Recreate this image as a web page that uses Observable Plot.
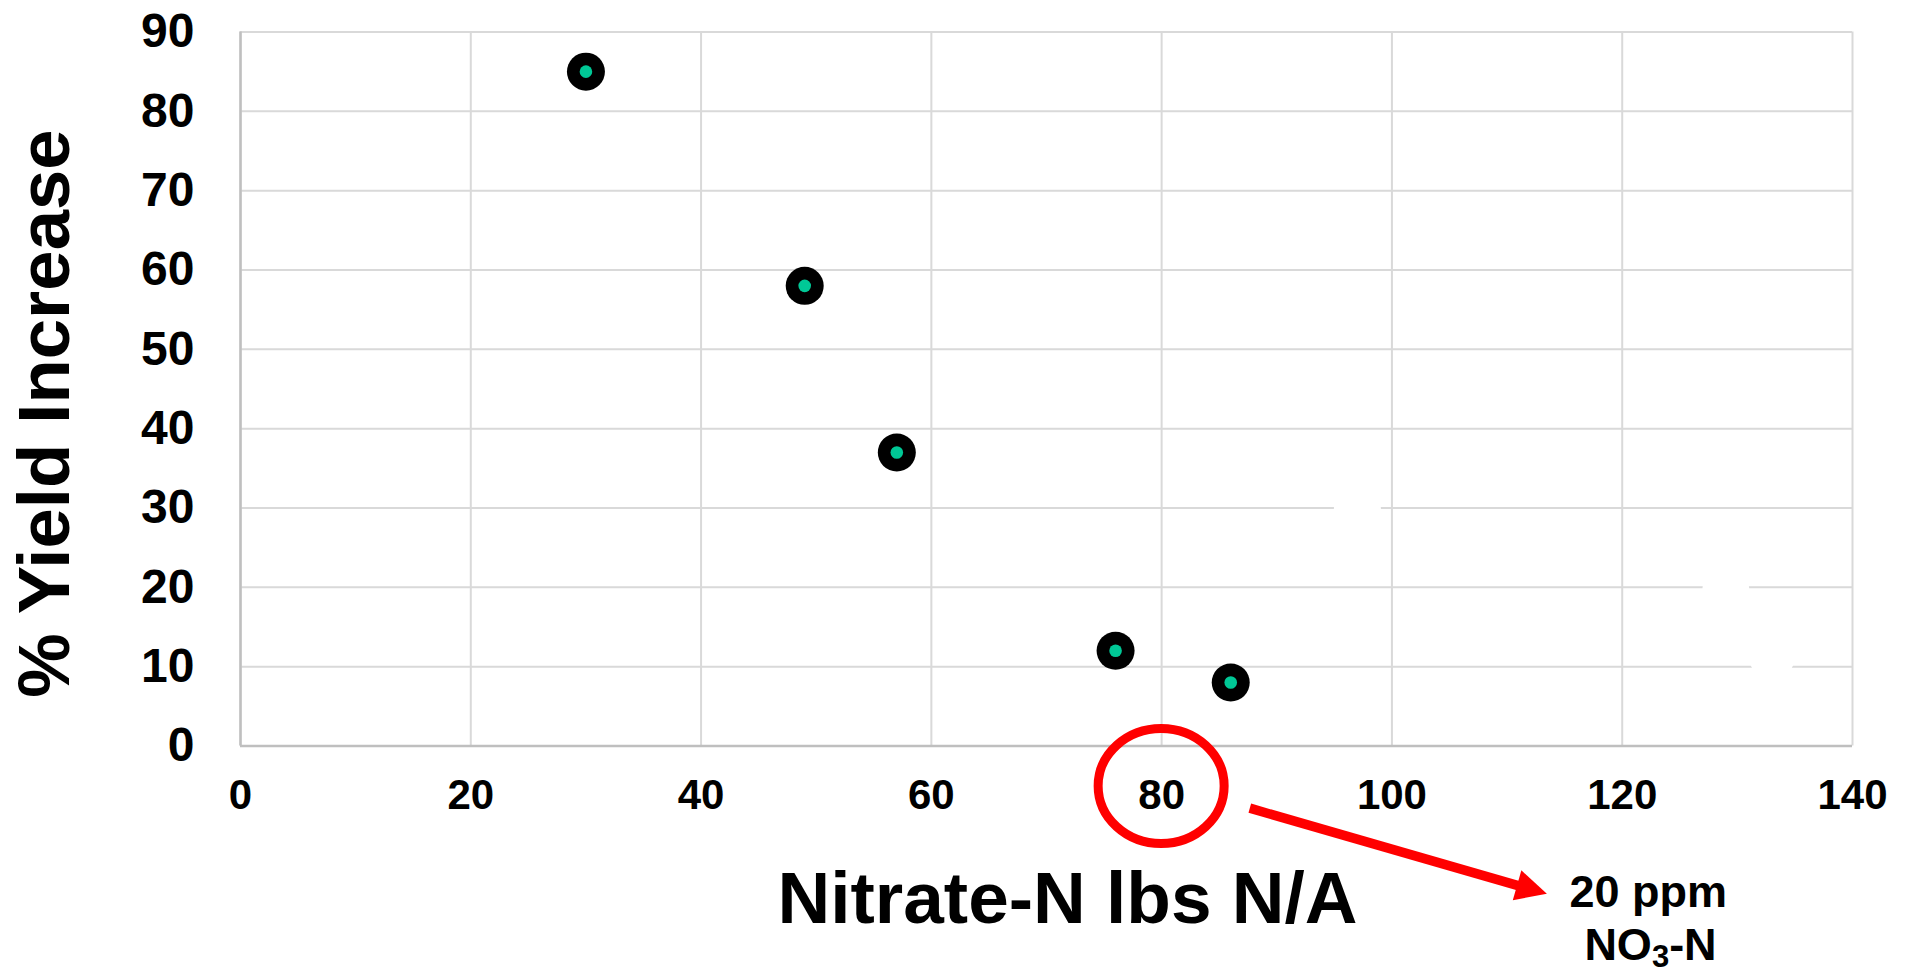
<!DOCTYPE html>
<html>
<head>
<meta charset="utf-8">
<script src="https://cdn.jsdelivr.net/npm/d3@7"></script>
<script src="https://cdn.jsdelivr.net/npm/@observablehq/plot@0.6"></script>
<style>
  html, body { margin: 0; padding: 0; background: #fff; }
  #chart svg { display: block; }
</style>
</head>
<body>
<div id="chart"></div>
<script>
// Soil nitrate-N vs. yield response
const nitrateN      = [30, 49, 57, 76, 86];
const yieldIncrease = [85, 58, 37, 12, 8];

// Sites blanked out in white
const blankN     = [97, 129, 133];
const blankYield = [30, 19.7, 11.4];

const xTicks = [0, 20, 40, 60, 80, 100, 120, 140];
const yTicks = [0, 10, 20, 30, 40, 50, 60, 70, 80, 90];

const xTitle = "Nitrate-N lbs N/A";
const yTitle = "% Yield Increase";

// Callout: ring around the 80 lb tick, arrow to the ppm equivalent
// (positions in axis units; negative y sits below the x axis)
const calloutTick    = 80;
const ringY          = -5.1;
const arrowStart     = [87.7, -7.9];
const arrowTip       = [113.5, -18.7];
const calloutLine1   = "20 ppm";
const calloutLine1At = [122.3, -20.3];
const calloutLine2   = ["NO", "3", "-N"];
const calloutLine2At = [122.5, -27.1];

const points = nitrateN.map((n, i) => ({n, y: yieldIncrease[i]}));
const blanks = blankN.map((n, i) => ({n, y: blankYield[i]}));

const font = '"Liberation Sans", Arial, Helvetica, sans-serif';
const gridStyle = {stroke: "#d9d9d9", strokeOpacity: 1, strokeWidth: 2};

const plot = Plot.plot({
  width: 1907,
  height: 974,
  marginLeft: 240,
  marginRight: 55,
  marginTop: 31.5,
  marginBottom: 228.5,
  style: {fontFamily: font, fontWeight: "bold", background: "#fff", color: "#000"},
  x: {domain: [0, 140]},
  y: {domain: [0, 90]},
  marks: [
    Plot.gridX(xTicks, gridStyle),
    Plot.gridY(yTicks, gridStyle),
    Plot.ruleY([0], {stroke: "#bfbfbf", strokeWidth: 2.5}),
    Plot.ruleX([0], {stroke: "#bfbfbf", strokeWidth: 2.5}),
    Plot.axisX(xTicks, {tickSize: 0, tickPadding: 33.5, fontSize: 42, fontWeight: "bold", label: null, fill: "#000"}),
    Plot.axisY(yTicks, {tickSize: 0, tickPadding: 46, fontSize: 48, fontWeight: "bold", label: null, fill: "#000"}),
    Plot.dot(blanks, {x: "n", y: "y", r: 23.5, fill: "#fff"}),
    Plot.dot(points, {x: "n", y: "y", r: 19, fill: "#000"}),
    Plot.dot(points, {x: "n", y: "y", r: 6.3, fill: "#00c896"}),
    Plot.text([xTitle], {text: d => d, frameAnchor: "bottom", dx: 21, dy: 176.5, lineAnchor: "bottom",
      textAnchor: "middle", fontSize: 73, fontWeight: "bold", fill: "#000"}),
    Plot.text([yTitle], {text: d => d, frameAnchor: "left", rotate: -90, dx: -172, dy: 24.5, lineAnchor: "bottom",
      textAnchor: "middle", fontSize: 72.5, fontWeight: "bold", fill: "#000"})
  ]
});

document.getElementById("chart").appendChild(plot);

// Callout graphics, placed with linear (unclamped) copies of the plot's scales
const px = plot.scale("x"), py = plot.scale("y");
const sx = d3.scaleLinear(px.domain, px.range);
const sy = d3.scaleLinear(py.domain, py.range);
const svg = d3.select(plot);
const red = "#ff0000";
const g = svg.append("g").attr("class", "callout");

g.append("ellipse")
  .attr("cx", sx(calloutTick))
  .attr("cy", sy(ringY))
  .attr("rx", 63)
  .attr("ry", 57.5)
  .attr("fill", "none")
  .attr("stroke", red)
  .attr("stroke-width", 9);

const x0 = sx(arrowStart[0]), y0 = sy(arrowStart[1]);
const x1 = sx(arrowTip[0]),   y1 = sy(arrowTip[1]);
const len = Math.hypot(x1 - x0, y1 - y0);
const ux = (x1 - x0) / len, uy = (y1 - y0) / len;
const headLen = 31, headHalf = 15.5;
const bx = x1 - ux * headLen, by = y1 - uy * headLen;

g.append("line")
  .attr("x1", x0).attr("y1", y0)
  .attr("x2", bx + ux * 2).attr("y2", by + uy * 2)
  .attr("stroke", red)
  .attr("stroke-width", 9.5);

g.append("polygon")
  .attr("points", [
    [x1, y1],
    [bx - uy * headHalf, by + ux * headHalf],
    [bx + uy * headHalf, by - ux * headHalf]
  ].map(p => p.join(",")).join(" "))
  .attr("fill", red);

g.append("text")
  .attr("x", sx(calloutLine1At[0]))
  .attr("y", sy(calloutLine1At[1]))
  .attr("text-anchor", "middle")
  .attr("font-family", font)
  .attr("font-weight", "bold")
  .attr("font-size", 45)
  .attr("fill", "#000")
  .text(calloutLine1);

const t2 = g.append("text")
  .attr("x", sx(calloutLine2At[0]))
  .attr("y", sy(calloutLine2At[1]))
  .attr("text-anchor", "middle")
  .attr("font-family", font)
  .attr("font-weight", "bold")
  .attr("font-size", 45)
  .attr("fill", "#000");
t2.append("tspan").text(calloutLine2[0]);
t2.append("tspan").attr("font-size", 31).attr("dy", 7).text(calloutLine2[1]);
t2.append("tspan").attr("dy", -7).text(calloutLine2[2]);
</script>
</body>
</html>
